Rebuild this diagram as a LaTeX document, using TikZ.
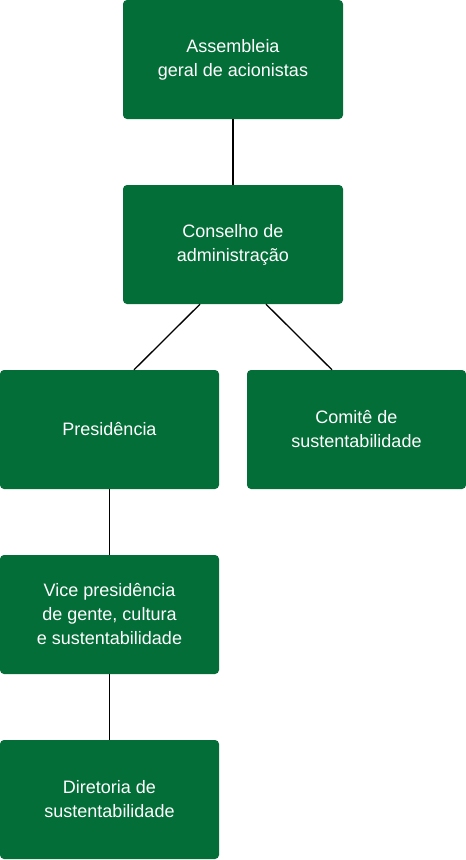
\documentclass[tikz,border=0pt]{standalone}
\usepackage{fontspec}
\setmainfont{Liberation Sans}
\definecolor{orggreen}{RGB}{3,110,55}
\begin{document}
\begin{tikzpicture}[x=1pt, y=-1pt,
  box/.style={fill=orggreen, text=white, rounded corners=4pt, minimum width=219pt,
    minimum height=119pt, inner sep=0pt, align=center, font=\fontsize{18}{24}\selectfont},
  link/.style={draw=black, line width=1.3pt}]
  \useasboundingbox (0,0) rectangle (466,860);

  \node[box, minimum width=220pt] (asm) at (233,59.5) {Assembleia\\geral de acionistas};
  \node[box, minimum width=220pt] (cons) at (233,244.5) {Conselho de\\administração};
  \node[box] (pres) at (109.5,429.5) {Presidência};
  \node[box] (com) at (356.5,429.5) {Comitê de\\sustentabilidade};
  \node[box] (vice) at (109.5,614.5) {Vice presidência\\de gente, cultura\\e sustentabilidade};
  \node[box] (dir) at (109.5,799.5) {Diretoria de\\sustentabilidade};

  \draw[link] (asm) -- (cons);
  \draw[link] ([xshift=-33pt]cons.south) -- ([xshift=24.5pt]pres.north);
  \draw[link] ([xshift=33pt]cons.south) -- ([xshift=-24.5pt]com.north);
  \draw[link] (pres) -- (vice);
  \draw[link] (vice) -- (dir);
\end{tikzpicture}
\end{document}
